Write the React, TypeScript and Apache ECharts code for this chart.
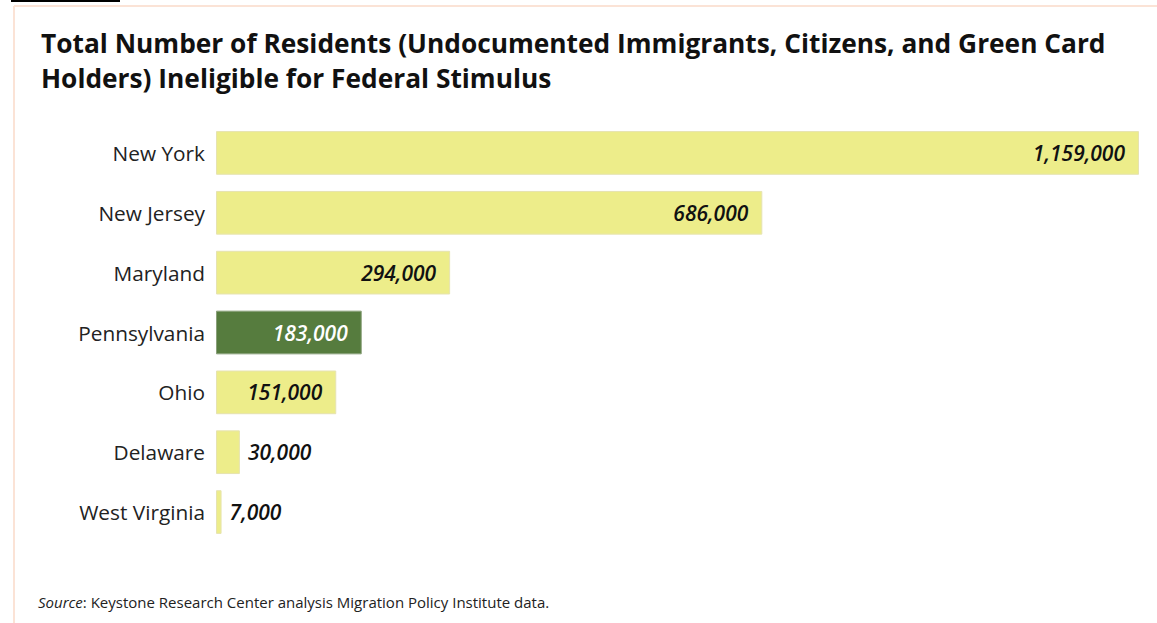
import React, { useEffect, useRef } from "react";
import * as echarts from "echarts";

const states = ["New York", "New Jersey", "Maryland", "Pennsylvania", "Ohio", "Delaware", "West Virginia"];
const residents = [1159000, 686000, 294000, 183000, 151000, 30000, 7000];
const highlighted = ["Pennsylvania"];
const outsideLabel = ["Delaware", "West Virginia"];

const titleText = "Total Number of Residents (Undocumented Immigrants, Citizens, and Green Card\nHolders) Ineligible for Federal Stimulus";
const FONT = "'Open Sans', 'Noto Sans', sans-serif";

const fmt = (v: number) => v.toLocaleString("en-US");

export default function App() {
  const ref = useRef<HTMLDivElement>(null);
  useEffect(() => {
    const chart = echarts.init(ref.current!, null, { renderer: "svg" });
    const data = states.map((s, i) => {
      const hi = highlighted.includes(s);
      const out = outsideLabel.includes(s);
      return {
        value: residents[i],
        itemStyle: {
          color: hi ? "#567c3e" : "#eded8a",
          borderColor: hi ? "#8aa07a" : "#e6e3b0",
          borderWidth: 1,
        },
        label: {
          show: true,
          position: out ? "right" : "insideRight",
          distance: out ? 8 : 14,
          color: hi ? "#ffffff" : "#111111",
          fontStyle: "italic",
          fontWeight: 600,
          fontSize: 21,
          fontFamily: FONT,
          formatter: () => fmt(residents[i]),
        },
      };
    });
    chart.setOption({
      animation: false,
      backgroundColor: "#ffffff",
      title: {
        text: titleText,
        left: 36,
        top: 20,
        textStyle: {
          fontFamily: FONT,
          fontWeight: "bold",
          fontSize: 26.3,
          lineHeight: 35,
          color: "#111111",
        },
      },
      grid: { left: 216, right: 18, top: 123, bottom: 81 },
      xAxis: {
        type: "value",
        min: 0,
        max: 1159000,
        show: false,
      },
      yAxis: {
        type: "category",
        data: states,
        inverse: true,
        axisLine: { show: false },
        axisTick: { show: false },
        axisLabel: {
          fontSize: 20.8,
          fontFamily: FONT,
          color: "#222222",
          margin: 11,
        },
      },
      series: [
        {
          type: "bar",
          data,
          barCategoryGap: "27%",
        },
      ],
      graphic: [
        { type: "line", shape: { x1: 11, y1: 1, x2: 120, y2: 1 }, style: { stroke: "#000000", lineWidth: 2 } },
        { type: "line", shape: { x1: 14, y1: 6, x2: 1157, y2: 6 }, style: { stroke: "#fbe3d6", lineWidth: 2 } },
        { type: "line", shape: { x1: 14, y1: 6, x2: 14, y2: 623 }, style: { stroke: "#fbe3d6", lineWidth: 2 } },
        {
          type: "text",
          left: 38,
          top: 594,
          style: {
            text: "{i|Source}: Keystone Research Center analysis Migration Policy Institute data.",
            fontFamily: FONT,
            fontSize: 15,
            fill: "#222222",
            rich: { i: { fontStyle: "italic", fontFamily: FONT, fontSize: 15, fill: "#222222" } },
          },
        },
      ],
    });
    return () => chart.dispose();
  }, []);
  return <div ref={ref} style={{ position: "absolute", left: 0, top: 0, width: 1157, height: 623 }} />;
}
